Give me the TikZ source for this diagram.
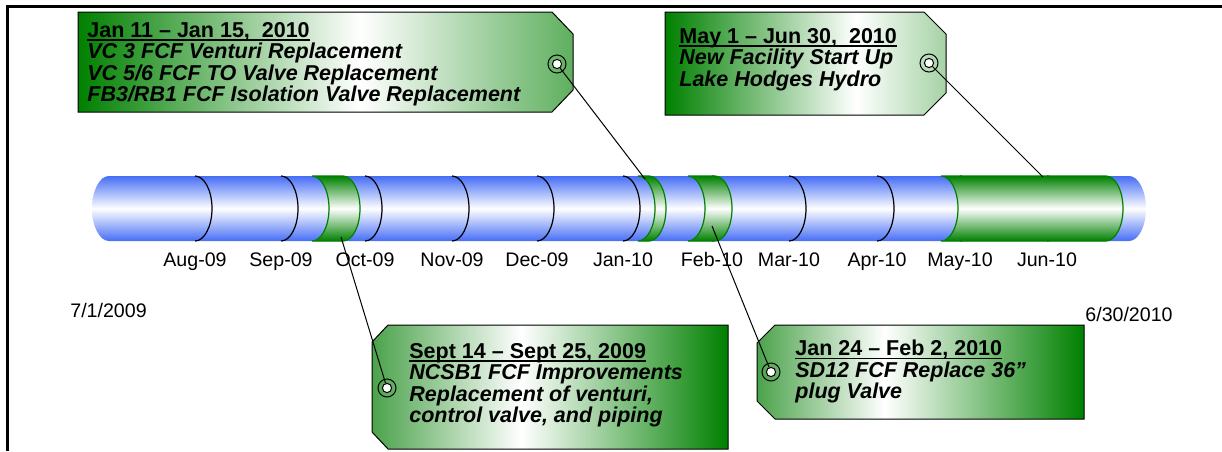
\documentclass[tikz,border=0pt]{standalone}
\usepackage{fontspec}
\setmainfont{Liberation Sans}
\usepackage{xcolor}
\usepackage{tikz}
\usetikzlibrary{positioning}

\definecolor{tubeblue}{RGB}{70,110,245}
\definecolor{bandgreen}{RGB}{0,128,0}
\definecolor{tagmid}{RGB}{95,175,95}
\definecolor{taglight}{RGB}{165,210,165}
\definecolor{tagleft}{RGB}{75,162,75}

\pgfdeclarehorizontalshading{tagjan}{100bp}{color(0bp)=(bandgreen); color(25bp)=(bandgreen); color(53.5bp)=(white); color(75bp)=(tagmid); color(100bp)=(tagmid)}
\pgfdeclarehorizontalshading{tagmay}{100bp}{color(0bp)=(bandgreen); color(25bp)=(bandgreen); color(59bp)=(white); color(75bp)=(taglight); color(100bp)=(taglight)}
\pgfdeclarehorizontalshading{tagsep}{100bp}{color(0bp)=(tagleft); color(25bp)=(tagleft); color(46bp)=(white); color(75bp)=(bandgreen); color(100bp)=(bandgreen)}
\pgfdeclarehorizontalshading{tagfeb}{100bp}{color(0bp)=(tagleft); color(25bp)=(tagleft); color(44.5bp)=(white); color(75bp)=(bandgreen); color(100bp)=(bandgreen)}

\newcommand{\tagfont}{\fontsize{10.75}{10.75}\selectfont\bfseries\itshape\lineskiplimit=-10pt\relax}
% date line of a tag: upright, with a tight underline
\newcommand{\tagdate}[1]{\upshape\setbox0\hbox{#1}\rlap{\rule[-1.6pt]{\wd0}{0.65pt}}\box0}

\begin{document}
\begin{tikzpicture}[
  x=0.5pt, y=-0.5pt,
  tube/.style={top color=tubeblue, bottom color=tubeblue, middle color=white},
  band/.style={draw=bandgreen, line width=0.6pt, top color=bandgreen, bottom color=bandgreen, middle color=white},
  divider/.style={draw=black, line width=0.6pt},
  tag/.style={draw=black, line width=0.5pt, shade},
  tagtext/.style={anchor=north west, align=left, inner sep=0pt, font=\tagfont},
  hole/.style={circle, draw, fill=white, inner sep=0pt, minimum size=4.6pt, line width=0.5pt},
  ring/.style={draw, line width=0.5pt},
  month/.style={anchor=base, inner sep=0pt, font=\fontsize{9.8}{11}\selectfont},
  pin/.style={draw, line width=0.5pt},
  frame/.style={draw, line width=1.5pt}
]
\useasboundingbox (0,0) rectangle (1222,451);

% Frame
\draw[frame] (7.5,451) -- (7.5,6) -- (1222,6);

% Timeline tube
\path[tube] (109,176) -- (1129,176) arc[start angle=-90, end angle=90, x radius=17, y radius=32.5]
  -- (109,241) arc[start angle=90, end angle=270, x radius=17, y radius=32.5] -- cycle;

% Month dividers
\foreach \mx in {195,281,365,452,537,623,712,789,877,960,1047}
  \draw[divider] (\mx,176) arc[start angle=-90, end angle=90, x radius=17, y radius=32.5];

% Work windows
\foreach \bl/\br in {312/343, 638/649, 688/715, 941/1106}
  \path[band] (\bl,176) arc[start angle=-90, end angle=90, x radius=17, y radius=32.5]
    -- (\br,241) arc[start angle=90, end angle=-90, x radius=17, y radius=32.5] -- cycle;

% Month labels
\node[month] (aug) at (195,266) {Aug-09};
\node[month] (sep) at (281,266) {Sep-09};
\node[month] (oct) at (365,266) {Oct-09};
\node[month] (nov) at (452,266) {Nov-09};
\node[month] (dec) at (537,266) {Dec-09};
\node[month] (jan) at (623,266) {Jan-10};
\node[month] (feb) at (712,266) {Feb-10};
\node[month] (mar) at (789,266) {Mar-10};
\node[month] (apr) at (877,266) {Apr-10};
\node[month] (may) at (960,266) {May-10};
\node[month] (jun) at (1047,266) {Jun-10};

% Start and end dates
\node[month, anchor=base west] (start) at (70,317) {7/1/2009};
\node[month, anchor=base west] (end) at (1085,321) {6/30/2010};

% Tags
\draw[tag, shading=tagjan] (78,12) -- (552,12) -- (573,34) -- (573,90) -- (552,112) -- (78,112) -- cycle;
\draw[tag, shading=tagmay] (665,12) -- (924,12) -- (946,34) -- (946,93) -- (924,115) -- (665,115) -- cycle;
\draw[tag, shading=tagsep] (388,325) -- (728,325) -- (728,449) -- (388,449) -- (372,432) -- (372,342) -- cycle;
\draw[tag, shading=tagfeb] (775,325) -- (1084,325) -- (1084,419) -- (775,419) -- (757,401) -- (757,343) -- cycle;

\node[tagtext] (jantext) at (87,22) {{\tagdate{Jan 11 – Jan 15,~~2010}}\\VC 3 FCF Venturi Replacement\\VC 5/6 FCF TO Valve Replacement\\FB3/RB1 FCF Isolation Valve Replacement};
\node[tagtext] (maytext) at (679,28) {{\tagdate{May 1 – Jun 30,~~2010}}\\New Facility Start Up\\Lake Hodges Hydro};
\node[tagtext] (septext) at (409,343) {{\tagdate{Sept 14 – Sept 25, 2009}}\\NCSB1 FCF Improvements\\Replacement of venturi,\\control valve, and piping};
\node[tagtext] (febtext) at (795,340) {{\tagdate{Jan 24 – Feb 2, 2010}}\\SD12 FCF Replace 36”\\plug Valve};

% Holes
\draw[ring] (557,64) circle[radius=9];
\draw[ring] (929,63) circle[radius=9];
\draw[ring] (387,388) circle[radius=9];
\draw[ring] (771,372) circle[radius=9];
\node[hole] (janhole) at (557,64) {};
\node[hole] (mayhole) at (929,63) {};
\node[hole] (sephole) at (387,388) {};
\node[hole] (febhole) at (771,372) {};

% Strings to the timeline
\coordinate (janpin) at (645,179);
\coordinate (maypin) at (1043,177);
\coordinate (seppin) at (341,237);
\coordinate (febpin) at (712,226);
\draw[pin] (janhole) -- (janpin);
\draw[pin] (mayhole) -- (maypin);
\draw[pin] (sephole) -- (seppin);
\draw[pin] (febhole) -- (febpin);
\end{tikzpicture}
\end{document}
